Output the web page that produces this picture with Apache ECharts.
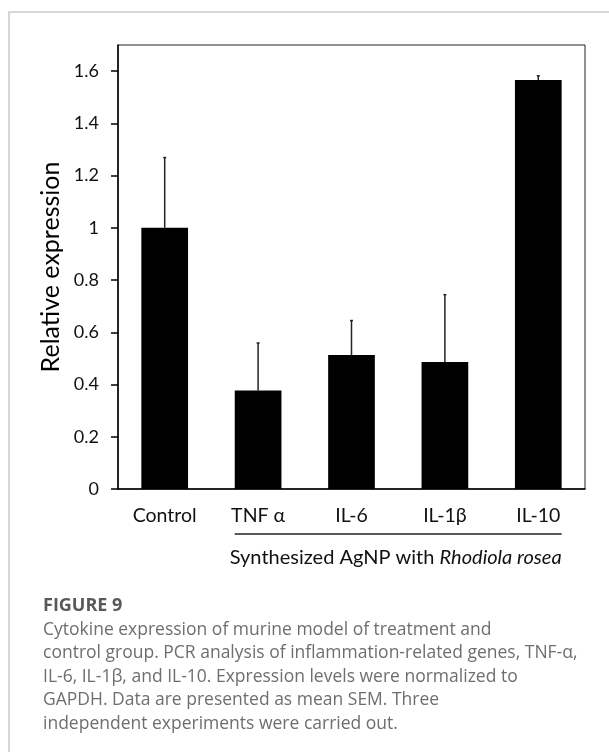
<!DOCTYPE html>
<html>
<head>
<meta charset="utf-8">
<script src="https://cdn.jsdelivr.net/npm/echarts@6/dist/echarts.min.js"></script>
<style>
  html, body { margin: 0; padding: 0; background: #fff; }
  #chart { width: 609px; height: 752px; }
</style>
</head>
<body>
<div id="chart"></div>
<script>
// Relative cytokine expression (mean with upper SEM whisker)
const categories = ['Control', 'TNF \u03b1', 'IL-6', 'IL-1\u03b2', 'IL-10'];
const meanValues = [1.0, 0.377, 0.513, 0.486, 1.566];
const upperValues = [1.269, 0.559, 0.645, 0.744, 1.582];
const yTicks = [0, 0.2, 0.4, 0.6, 0.8, 1, 1.2, 1.4, 1.6];

const groupLabel = 'Synthesized AgNP with ';
const groupLabelItalic = 'Rhodiola rosea';
const figureTitle = 'FIGURE 9';
const captionLines = [
  'Cytokine expression of murine model of treatment and',
  'control group. PCR analysis of inflammation-related genes, TNF-\u03b1,',
  'IL-6, IL-1\u03b2, and IL-10. Expression levels were normalized to',
  'GAPDH. Data are presented as mean SEM. Three',
  'independent experiments were carried out.'
];

const plotFont = 'Lato';
const chart = echarts.init(document.getElementById('chart'), null, { renderer: 'canvas' });

const errorData = categories.map((c, i) => [i, meanValues[i], upperValues[i]]);

chart.setOption({
  animation: false,
  backgroundColor: '#fff',
  textStyle: { fontFamily: plotFont },
  grid: {
    left: 118, right: 24, top: 45, bottom: 263,
    show: true, borderColor: '#222', borderWidth: 1, backgroundColor: 'transparent'
  },
  xAxis: {
    type: 'category',
    data: categories,
    axisLine: { lineStyle: { color: '#000', width: 1.5 } },
    axisTick: { show: false },
    axisLabel: { color: '#111', fontSize: 19.5, margin: 17, fontFamily: plotFont }
  },
  yAxis: {
    type: 'value',
    min: 0, max: 1.7, interval: 0.2,
    name: 'Relative expression',
    nameLocation: 'middle',
    nameGap: 50,
    nameTextStyle: { color: '#000', fontSize: 25, fontFamily: plotFont },
    axisLine: { show: true, lineStyle: { color: '#000', width: 1.5 } },
    axisTick: { show: true, length: 7, inside: false, customValues: yTicks, lineStyle: { color: '#000', width: 1.5 } },
    axisLabel: {
      customValues: yTicks, color: '#111', fontSize: 18, margin: 19, fontFamily: plotFont,
      formatter: v => String(Math.round(v * 10) / 10)
    },
    splitLine: { show: false }
  },
  series: [
    {
      type: 'bar',
      data: meanValues,
      barWidth: '50%',
      itemStyle: { color: '#000' },
      z: 2
    },
    {
      type: 'custom',
      data: errorData,
      z: 3,
      renderItem: function (params, api) {
        const x = api.value(0);
        const base = api.coord([x, api.value(1)]);
        const top = api.coord([x, api.value(2)]);
        const style = { stroke: '#222', lineWidth: 1.5 };
        return {
          type: 'group',
          children: [
            { type: 'line', shape: { x1: base[0], y1: base[1], x2: top[0], y2: top[1] }, style: style },
            { type: 'line', shape: { x1: top[0] - 1.5, y1: top[1], x2: top[0] + 1.5, y2: top[1] }, style: style }
          ]
        };
      }
    }
  ]
});

// Group bracket under the treated samples, spanning their bars
const halfBar = (chart.convertToPixel({ xAxisIndex: 0 }, 1) - chart.convertToPixel({ xAxisIndex: 0 }, 0)) / 4;
const bracketLeft = chart.convertToPixel({ xAxisIndex: 0 }, 1) - halfBar;
const bracketRight = chart.convertToPixel({ xAxisIndex: 0 }, categories.length - 1) + halfBar;

const captionTextElements = captionLines.map((line, i) => ({
  type: 'text',
  x: 43,
  y: 630 + i * 23.4,
  style: { text: line, fill: '#6e6e6e', font: '17.5px "Open Sans"', verticalAlign: 'middle' }
}));

chart.setOption({
  graphic: [
    {
      type: 'rect',
      shape: { x: 9, y: 12, width: 640, height: 800 },
      style: { fill: 'none', stroke: '#cacaca', lineWidth: 1.5 },
      silent: true, z: -1
    },
    {
      type: 'line',
      shape: { x1: bracketLeft, y1: 534, x2: bracketRight, y2: 534 },
      style: { stroke: '#222', lineWidth: 1.5 }
    },
    {
      type: 'text',
      x: bracketRight, y: 558,
      style: {
        text: groupLabel + '{i|' + groupLabelItalic + '}',
        align: 'right', verticalAlign: 'middle',
        fill: '#111', font: '20px Lato',
        rich: { i: { fontStyle: 'italic', fontSize: 20, fontFamily: plotFont, fill: '#111' } }
      }
    },
    {
      type: 'text',
      x: 43, y: 606,
      style: { text: figureTitle, fill: '#58595b', font: 'bold 18px "Open Sans"', verticalAlign: 'middle' }
    }
  ].concat(captionTextElements)
});
</script>
</body>
</html>
